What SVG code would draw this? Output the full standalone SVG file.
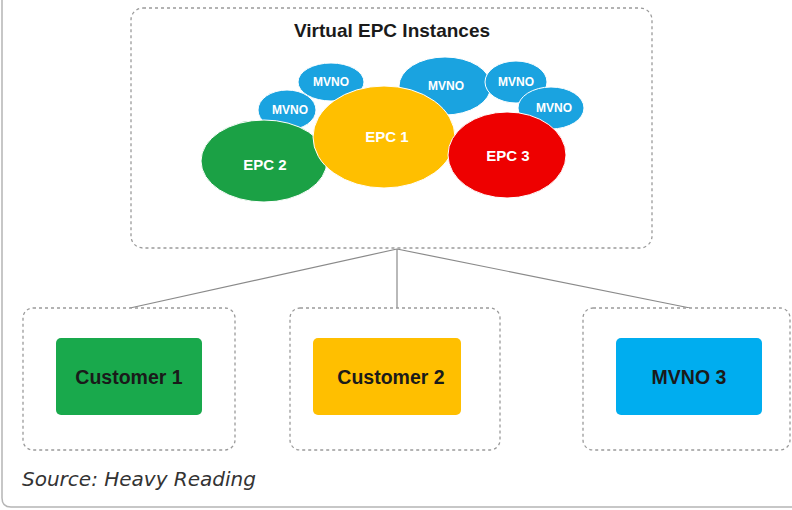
<svg xmlns="http://www.w3.org/2000/svg" width="792" height="510" viewBox="0 0 792 510">
  <defs>
    <style>
      .frame { fill: none; stroke: #b5b5b5; stroke-width: 1.5; }
      .dash { fill: #ffffff; stroke: #9a9a9a; stroke-width: 1.3; stroke-dasharray: 3 3; }
      .link { fill: none; stroke: #8a8a8a; stroke-width: 1.2; }
      .title { font-family: "Liberation Sans", Arial, sans-serif; font-weight: bold; font-size: 19px; fill: #1a1a1a; text-anchor: middle; }
      .mvno { fill: #1aa3e0; stroke: #ffffff; stroke-width: 1; }
      .blob { stroke: #ffffff; stroke-width: 1; }
      .small { font-family: "Liberation Sans", Arial, sans-serif; font-weight: bold; font-size: 12px; fill: #ffffff; text-anchor: middle; }
      .big { font-family: "Liberation Sans", Arial, sans-serif; font-weight: bold; font-size: 15px; fill: #ffffff; text-anchor: middle; }
      .cust { font-family: "Liberation Sans", Arial, sans-serif; font-weight: bold; font-size: 19.5px; fill: #1a1a1a; text-anchor: middle; }
      .source { font-family: "DejaVu Sans", "Open Sans", sans-serif; font-style: italic; font-size: 20px; fill: #333333; }
    </style>
  </defs>

  <rect width="792" height="510" fill="#ffffff"/>
  <!-- outer frame, open on the top and right -->
  <path class="frame" d="M2,-2 V498 Q2,507 11,507 H800"/>

  <!-- connectors -->
  <g id="connectors">
    <line class="link" x1="397" y1="249" x2="130" y2="308"/>
    <line class="link" x1="397" y1="249" x2="397" y2="308"/>
    <line class="link" x1="397" y1="249" x2="690" y2="308"/>
  </g>

  <!-- virtual EPC cluster -->
  <g id="virtual-epc">
    <rect class="dash" x="131" y="8" width="521" height="240" rx="12"/>
    <text class="title" x="392" y="37">Virtual EPC Instances</text>

    <g id="mvno-a"><ellipse class="mvno" cx="331" cy="82" rx="33" ry="19"/><text class="small" x="331" y="86">MVNO</text></g>
    <g id="mvno-b"><ellipse class="mvno" cx="287" cy="110" rx="29" ry="20"/><text class="small" x="290" y="114">MVNO</text></g>
    <g id="mvno-c"><ellipse class="mvno" cx="445" cy="86" rx="46" ry="29"/><text class="small" x="446" y="90">MVNO</text></g>
    <g id="mvno-d"><ellipse class="mvno" cx="516" cy="82" rx="31" ry="21"/><text class="small" x="516" y="86">MVNO</text></g>
    <g id="mvno-e"><ellipse class="mvno" cx="551" cy="108" rx="33" ry="21"/><text class="small" x="554" y="112">MVNO</text></g>

    <g id="epc2"><ellipse class="blob" fill="#1ba145" cx="264" cy="161" rx="63" ry="41"/><text class="big" x="265" y="170">EPC 2</text></g>
    <g id="epc1"><ellipse class="blob" fill="#ffbf00" cx="384" cy="137" rx="71" ry="51"/><text class="big" x="387" y="142" fill="#fff3cc">EPC 1</text></g>
    <g id="epc3"><ellipse class="blob" fill="#ee0000" cx="507" cy="155" rx="59" ry="43"/><text class="big" x="508" y="161">EPC 3</text></g>
  </g>

  <!-- customer / MVNO boxes -->
  <g id="customer1">
    <rect class="dash" x="23" y="308" width="212" height="142" rx="10"/>
    <rect x="56" y="338" width="146" height="77" rx="5" fill="#19a94c"/>
    <text class="cust" x="129" y="384">Customer 1</text>
  </g>
  <g id="customer2">
    <rect class="dash" x="290" y="308" width="210" height="142" rx="10"/>
    <rect x="313" y="338" width="148" height="77" rx="5" fill="#ffbf00"/>
    <text class="cust" x="391" y="384">Customer 2</text>
  </g>
  <g id="mvno3">
    <rect class="dash" x="583" y="308" width="207" height="142" rx="10"/>
    <rect x="616" y="338" width="146" height="77" rx="5" fill="#00adef"/>
    <text class="cust" x="689" y="384">MVNO 3</text>
  </g>

  <text class="source" x="22" y="486">Source: Heavy Reading</text>
</svg>
